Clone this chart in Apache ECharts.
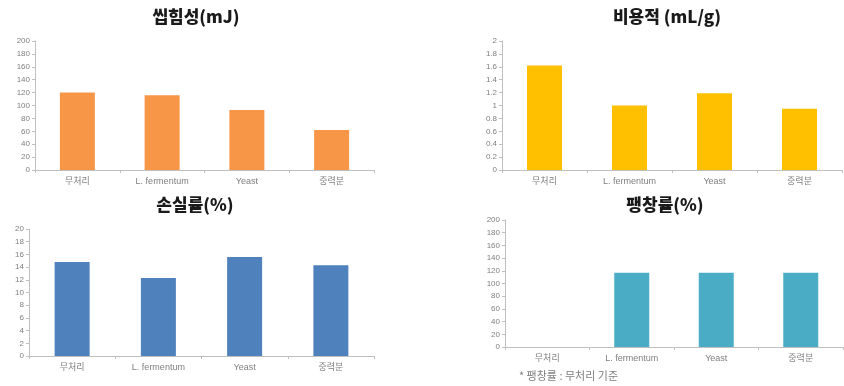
<!DOCTYPE html>
<html>
<head>
<meta charset="utf-8">
<script src="https://cdn.jsdelivr.net/npm/echarts@6/dist/echarts.min.js"></script>
<style>
  html, body { margin: 0; padding: 0; background: #fff; }
  #chart { width: 844px; height: 386px; }
</style>
</head>
<body>
<div id="chart"></div>
<script>
// Sample groups shared by all four panels
const categories = ['무처리', 'L. fermentum', 'Yeast', '중력분'];

// 씹힘성 (mJ)
const chewiness = [120, 116, 93, 62];
// 비용적 (mL/g)
const specificVolume = [1.62, 1.0, 1.19, 0.95];
// 손실률 (%)
const lossRate = [14.8, 12.3, 15.6, 14.3];
// 팽창률 (%), relative to 무처리
const expansionRate = [0, 117, 117, 117];

const panelTitles = ['씹힘성(mJ)', '비용적 (mL/g)', '손실률(%)', '팽창률(%)'];
const footnote = '* 팽창률 : 무처리 기준';

const yRanges = [
  { max: 200, interval: 20 },
  { max: 2, interval: 0.2 },
  { max: 20, interval: 2 },
  { max: 200, interval: 20 }
];
const seriesData = [chewiness, specificVolume, lossRate, expansionRate];
const colors = ['#F79646', '#FFC000', '#4F81BD', '#4BACC6'];

const grids = [
  { left: 35, top: 41, width: 339, height: 129 },
  { left: 502, top: 41, width: 340, height: 129 },
  { left: 29, top: 229, width: 345, height: 127 },
  { left: 505, top: 220, width: 338, height: 127 }
];
const titlePos = [
  { x: 196, y: 8 },
  { x: 667, y: 8 },
  { x: 195, y: 196 },
  { x: 665, y: 196 }
];

const FONT = '"Liberation Sans", "Noto Sans CJK KR", sans-serif';
const KFONT = '"Noto Sans CJK KR", "Liberation Sans", sans-serif';
const axisGray = '#BFBFBF';
const labelGray = '#7F7F7F';

const option = {
  animation: false,
  backgroundColor: '#ffffff',
  title: panelTitles.map((t, i) => ({
    text: t,
    left: titlePos[i].x,
    top: titlePos[i].y,
    textAlign: 'center',
    padding: 0,
    textStyle: { fontFamily: KFONT, fontSize: 17, fontWeight: 900, color: '#1a1a1a' }
  })),
  grid: grids.map(g => Object.assign({ containLabel: false }, g)),
  xAxis: grids.map((g, i) => ({
    type: 'category',
    gridIndex: i,
    data: categories,
    axisLine: { lineStyle: { color: axisGray, width: 1 } },
    axisTick: { show: true, length: 3, lineStyle: { color: axisGray } },
    axisLabel: { fontFamily: FONT, fontSize: 9, color: labelGray, margin: 7 }
  })),
  yAxis: yRanges.map((r, i) => ({
    type: 'value',
    gridIndex: i,
    min: 0,
    max: r.max,
    interval: r.interval,
    splitLine: { show: false },
    axisLine: { show: true, lineStyle: { color: axisGray, width: 1 } },
    axisTick: { show: true, length: 3, lineStyle: { color: axisGray } },
    axisLabel: { fontFamily: FONT, fontSize: 8, color: labelGray, margin: 5 }
  })),
  series: seriesData.map((d, i) => ({
    type: 'bar',
    xAxisIndex: i,
    yAxisIndex: i,
    data: d,
    barWidth: 35,
    itemStyle: { color: colors[i] }
  })),
  graphic: [{
    type: 'text',
    left: 519,
    top: 370,
    style: { text: footnote, font: '11px ' + KFONT, fill: '#7F7F7F' }
  }]
};

const chart = echarts.init(document.getElementById('chart'), null, { renderer: 'canvas' });
chart.setOption(option);
</script>
</body>
</html>
